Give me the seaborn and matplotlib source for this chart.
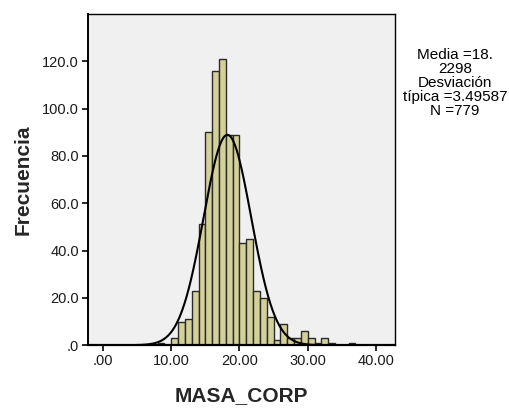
import numpy as np
import pandas as pd
import matplotlib
matplotlib.use("Agg")
import matplotlib.pyplot as plt
import seaborn as sns

# Frequency table of MASA_CORP (bin width 1)
bin_left = [8, 9, 10, 11, 12, 13, 14, 15, 16, 17, 18, 19, 20, 21, 22, 23,
            24, 25, 26, 27, 28, 29, 30, 31, 32, 33, 34, 35, 36]
counts = [1, 0, 3, 10, 11, 23, 51, 90, 116, 121, 89, 89, 43, 45, 23, 20,
          12, 2, 9, 3, 3, 6, 3, 1, 3, 1, 0, 0, 1]

mean_val = 18.2298
sd_val = 3.49587
n_obs = 779

x_ticks = [0, 10, 20, 30, 40]
x_ticklabels = [".00", "10.00", "20.00", "30.00", "40.00"]
y_ticks = [0, 20, 40, 60, 80, 100, 120]
y_ticklabels = [".0", "20.0", "40.0", "60.0", "80.0", "100.0", "120.0"]

sns.set_theme(style="ticks")
plt.rcParams["font.family"] = ["Liberation Sans", "DejaVu Sans"]

fig = plt.figure(figsize=(5.09, 4.08), dpi=100)
ax = fig.add_axes([0.173, 0.154, 0.603, 0.812])
ax.set_facecolor("#F0F0F0")

hist_df = pd.DataFrame({"x": np.array(bin_left) + 0.5, "w": counts})
sns.histplot(data=hist_df, x="x", weights="w", binwidth=1,
             binrange=(bin_left[0], bin_left[-1] + 1),
             color="#D4D09A", alpha=1, edgecolor="#2a2a2a", linewidth=1.0,
             ax=ax)

# Normal curve scaled to the counts
xs = np.linspace(-2.2, 42.8, 400)
ys = n_obs * 1.0 / (sd_val * np.sqrt(2 * np.pi)) * np.exp(-0.5 * ((xs - mean_val) / sd_val) ** 2)
curve_df = pd.DataFrame({"x": xs, "y": ys})
sns.lineplot(data=curve_df, x="x", y="y", color="black", linewidth=1.5, ax=ax)

ax.set_xlim(-2.2, 42.8)
ax.set_ylim(0, 140)
ax.set_xticks(x_ticks)
ax.set_xticklabels(x_ticklabels)
ax.set_yticks(y_ticks)
ax.set_yticklabels(y_ticklabels)
ax.tick_params(direction="out", length=4.5, width=1.2, labelsize=10.5, color="black",
               labelcolor="#1a1a1a", pad=2)
for sp in ax.spines.values():
    sp.set_visible(True)
    sp.set_color("black")
    sp.set_linewidth(1.0)
ax.spines["bottom"].set_linewidth(1.6)
ax.spines["left"].set_linewidth(1.4)

ax.set_xlabel("MASA_CORP", fontsize=15, fontweight="bold", labelpad=13)
ax.set_ylabel("Frecuencia", fontsize=15, fontweight="bold", labelpad=7)

fig.text(455 / 509, 1 - 83 / 408,
         "Media =18.\n2298\nDesviación\ntípica =3.49587\nN =779",
         ha="center", va="center", fontsize=11, linespacing=1.02, color="black")

fig.savefig("out.png", dpi=100)
